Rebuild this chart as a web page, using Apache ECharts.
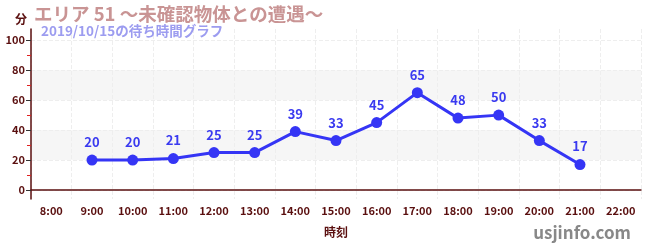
<!DOCTYPE html>
<html><head><meta charset="utf-8">
<script src="https://cdn.jsdelivr.net/npm/echarts@6/dist/echarts.min.js"></script>
<style>html,body{margin:0;padding:0;background:#fff}#c{width:650px;height:250px}</style>
</head><body><div id="c"></div>
<script>
const categories = ['8:00','9:00','10:00','11:00','12:00','13:00','14:00','15:00','16:00','17:00','18:00','19:00','20:00','21:00','22:00'];
const waitTimes = [null,20,20,21,25,25,39,33,45,65,48,50,33,17,null];
const majorTicks = [0,20,40,60,80,100];
const minorTicks = [10,30,50,70,90];
const titleText = 'エリア 51 ～未確認物体との遭遇～';
const subText = '2019/10/15の待ち時間グラフ';

const font = '"Noto Sans CJK JP","Noto Sans",sans-serif';
const axisColor = '#5a0f0f';
const chart = echarts.init(document.getElementById('c'));
chart.setOption({
  animation:false,
  textStyle:{fontFamily:font},
  title:[{
    text:titleText, left:29, top:0,
    textStyle:{fontFamily:font,fontSize:18.5,fontWeight:'bold',color:'#c99494'}
  },{
    text:subText, left:36, top:19,
    textStyle:{fontFamily:font,fontSize:13.5,fontWeight:'bold',color:'#9c9cf0'}
  },{
    text:'usjinfo.com', right:14, bottom:4,
    textStyle:{fontFamily:font,fontSize:17,fontWeight:'bold',color:'#888'}
  }],
  grid:{left:31,right:9,top:29,bottom:51,containLabel:false},
  xAxis:{
    type:'category', data:categories, boundaryGap:true,
    name:'時刻', nameLocation:'middle', nameGap:27,
    nameTextStyle:{color:axisColor,fontWeight:'bold',fontSize:12,fontFamily:font},
    axisLine:{lineStyle:{color:axisColor,width:1.5}},
    axisTick:{alignWithLabel:true,lineStyle:{color:'#555'}},
    axisLabel:{color:axisColor,fontSize:11,fontWeight:'bold',margin:6,interval:0},
    splitLine:{show:true,interval:0,lineStyle:{color:'#eee',type:'dashed'}}
  },
  yAxis:[{
    type:'value', min:-6, max:107.5, position:'left',
    name:'分', nameLocation:'end', nameGap:4,
    nameTextStyle:{color:axisColor,fontWeight:'bold',fontSize:12,padding:[0,20,0,0],fontFamily:font},
    axisLine:{show:true,lineStyle:{color:axisColor,width:1.5}},
    axisTick:{show:true,customValues:majorTicks,length:5,lineStyle:{color:'#333'}},
    axisLabel:{customValues:majorTicks,color:axisColor,fontSize:11,fontWeight:'bold',margin:6},
    splitLine:{show:true,lineStyle:{color:'#eee',type:'dashed'}},
    splitArea:{show:true,areaStyle:{color:['rgba(255,255,255,0)','#f6f6f6']}}
  },{
    type:'value', min:-6, max:107.5, position:'left',
    axisLine:{show:false},
    axisTick:{show:true,customValues:minorTicks,length:4,lineStyle:{color:'#e02020'}},
    axisLabel:{show:false},
    splitLine:{show:false}
  }],
  series:[{
    type:'line', data:waitTimes, yAxisIndex:0,
    symbol:'circle', symbolSize:11,
    lineStyle:{color:'#3535f5',width:3},
    itemStyle:{color:'#3535f5'},
    label:{show:true,position:'top',color:'#3a3af0',fontSize:13,fontWeight:'bold',distance:6}
  }]
});
</script></body></html>
